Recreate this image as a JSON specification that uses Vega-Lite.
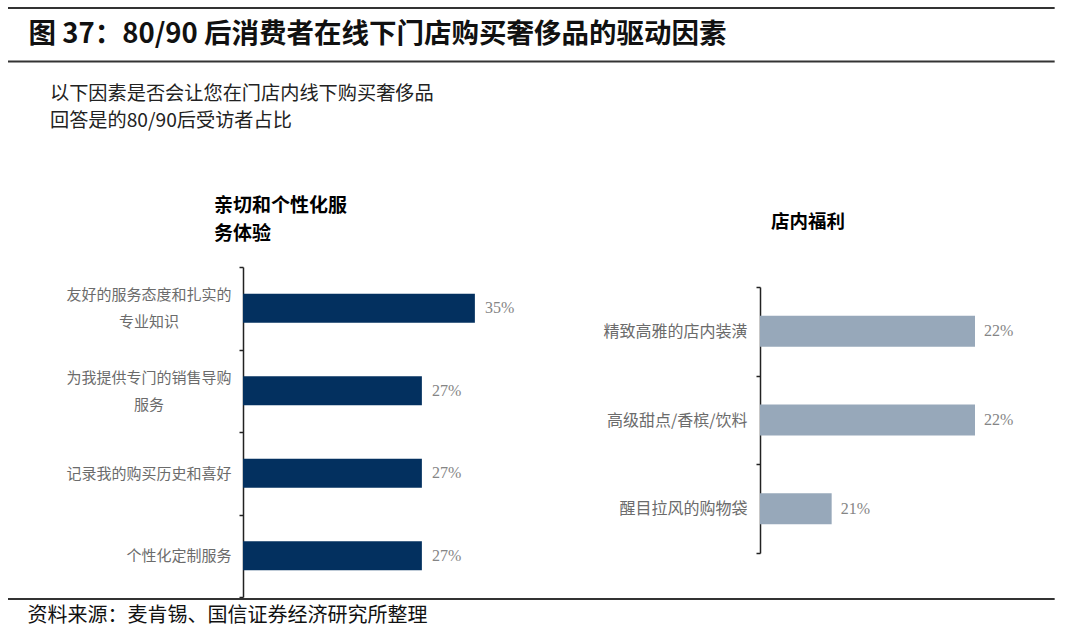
{
  "$schema": "https://vega.github.io/schema/vega-lite/v6.json",
  "background": "white",
  "padding": {"left": 7, "top": 7, "right": 0, "bottom": 0},
  "bounds": "flush",
  "spacing": 2,
  "config": {
    "view": {"stroke": null},
    "font": "Noto Sans CJK SC",
    "axis": {"labelFont": "Noto Sans CJK SC"}
  },
  "vconcat": [
    {
      "width": 1073,
      "height": 257,
      "layer": [
        {
          "data": {"values": [{"k": 1}]},
          "mark": {"type": "rule", "color": "#333333", "strokeWidth": 2},
          "encoding": {
            "x": {"datum": 0, "type": "quantitative", "scale": {"domain": [0, 1073]}, "axis": null},
            "x2": {"datum": 1073},
            "y": {"datum": 0, "type": "quantitative", "scale": {"domain": [257, 0]}, "axis": null}
          }
        },
        {
          "data": {"values": [{"k": 1}]},
          "mark": {"type": "rule", "color": "#333333", "strokeWidth": 2},
          "encoding": {
            "x": {"datum": 0, "type": "quantitative"},
            "x2": {"datum": 1073},
            "y": {"datum": 54, "type": "quantitative"}
          }
        },
        {
          "data": {"values": [{"text": "图 37：80/90 后消费者在线下门店购买奢侈品的驱动因素"}]},
          "mark": {"type": "text", "align": "left", "baseline": "middle", "fontSize": 27.5, "fontWeight": "bold", "color": "#111111", "font": "Noto Sans CJK SC"},
          "encoding": {
            "x": {"datum": 21, "type": "quantitative"},
            "y": {"datum": 27, "type": "quantitative"},
            "text": {"field": "text"}
          }
        },
        {
          "data": {"values": [{"text": "以下因素是否会让您在门店内线下购买奢侈品\n回答是的80/90后受访者占比"}]},
          "mark": {"type": "text", "align": "left", "baseline": "middle", "fontSize": 19.2, "lineBreak": "\n", "lineHeight": 27, "color": "#222222", "font": "Noto Sans CJK SC"},
          "encoding": {
            "x": {"datum": 43, "type": "quantitative"},
            "y": {"datum": 87.5, "type": "quantitative"},
            "text": {"field": "text"}
          }
        }
      ]
    },
    {
      "bounds": "flush",
      "spacing": 0,
      "hconcat": [
        {
          "width": 235,
          "height": 10,
          "data": {"values": []},
          "mark": "point"
        },
        {
          "width": 265,
          "height": 330,
          "title": {"text": ["亲切和个性化服", "务体验"], "anchor": "start", "frame": "group", "dx": -29, "offset": 16, "fontSize": 19, "fontWeight": "bold", "lineHeight": 28, "color": "#000000", "font": "Noto Sans CJK SC"},
          "data": {"values": [
            {"factor": "友好的服务态度和扎实的专业知识", "share": 0.35},
            {"factor": "为我提供专门的销售导购服务", "share": 0.27},
            {"factor": "记录我的购买历史和喜好", "share": 0.27},
            {"factor": "个性化定制服务", "share": 0.27}
          ]},
          "encoding": {
            "y": {
              "field": "factor", "type": "nominal", "sort": null,
              "scale": {"paddingInner": 0, "paddingOuter": 0},
              "axis": {
                "title": null, "labelFontSize": 15, "labelColor": "#6b6b6b",
                "labelLineHeight": 27, "labelLimit": 400,
                "tickSize": 4, "tickWidth": 1.5, "tickColor": "#222222", "tickBand": "extent",
                "domainColor": "#222222", "domainWidth": 1.5,
                "labelExpr": "datum.value == '友好的服务态度和扎实的专业知识' ? ['友好的服务态度和扎实的', '专业知识'] : datum.value == '为我提供专门的销售导购服务' ? ['为我提供专门的销售导购', '服务'] : datum.value",
                "labelAlign": {"condition": {"test": "datum.value == '友好的服务态度和扎实的专业知识' || datum.value == '为我提供专门的销售导购服务'", "value": "center"}, "value": "right"},
                "labelPadding": {"condition": {"test": "datum.value == '友好的服务态度和扎实的专业知识' || datum.value == '为我提供专门的销售导购服务'", "value": 90.5}, "value": 8},
                "labelOffset": {"condition": {"test": "datum.value == '友好的服务态度和扎实的专业知识' || datum.value == '为我提供专门的销售导购服务'", "value": -13.5}, "value": 0}
              }
            },
            "x": {"field": "share", "type": "quantitative", "scale": {"domain": [0, 0.4]}, "axis": null}
          },
          "layer": [
            {"mark": {"type": "bar", "color": "#03305f", "height": {"band": 0.352}}},
            {
              "mark": {"type": "text", "align": "left", "baseline": "middle", "dx": 10, "fontSize": 16, "color": "#858585", "font": "Liberation Sans Narrow, Liberation Serif"},
              "encoding": {"text": {"field": "share", "type": "quantitative", "format": ".0%"}}
            }
          ]
        },
        {
          "width": 252,
          "height": 10,
          "data": {"values": []},
          "mark": "point"
        },
        {
          "bounds": "flush",
          "spacing": 0,
          "vconcat": [
            {
              "width": 10,
              "height": 20,
              "data": {"values": []},
              "mark": "point"
            },
            {
              "width": 215,
              "height": 266,
              "title": {"text": "店内福利", "anchor": "start", "frame": "group", "dx": 11, "offset": 48, "fontSize": 18.5, "fontWeight": "bold", "color": "#000000", "font": "Noto Sans CJK SC"},
              "data": {"values": [
                {"factor": "精致高雅的店内装潢", "share": 0.22},
                {"factor": "高级甜点/香槟/饮料", "share": 0.22},
                {"factor": "醒目拉风的购物袋", "share": 0.21}
              ]},
              "encoding": {
                "y": {
                  "field": "factor", "type": "nominal", "sort": null,
                  "scale": {"paddingInner": 0, "paddingOuter": 0},
                  "axis": {
                    "title": null, "labelFontSize": 16, "labelColor": "#6b6b6b", "labelPadding": 9,
                    "labelLimit": 400,
                    "tickSize": 4, "tickWidth": 1.5, "tickColor": "#222222", "tickBand": "extent",
                    "domainColor": "#222222", "domainWidth": 1.5
                  }
                },
                "x": {"field": "share", "type": "quantitative", "scale": {"domain": [0.205, 0.22], "zero": false}, "axis": null}
              },
              "layer": [
                {
                  "mark": {"type": "bar", "color": "#97a8ba", "height": {"band": 0.35}},
                  "encoding": {"x2": {"datum": 0.205}}
                },
                {
                  "mark": {"type": "text", "align": "left", "baseline": "middle", "dx": 9, "fontSize": 16, "color": "#858585", "font": "Liberation Sans Narrow, Liberation Serif"},
                  "encoding": {"text": {"field": "share", "type": "quantitative", "format": ".0%"}}
                }
              ]
            }
          ]
        }
      ]
    },
    {
      "width": 10,
      "height": 328,
      "data": {"values": []},
      "mark": "point"
    },
    {
      "width": 1073,
      "height": 30,
      "layer": [
        {
          "data": {"values": [{"k": 1}]},
          "mark": {"type": "rule", "color": "#333333", "strokeWidth": 2},
          "encoding": {
            "x": {"datum": 0, "type": "quantitative", "scale": {"domain": [0, 1073]}, "axis": null},
            "x2": {"datum": 1073},
            "y": {"datum": 0, "type": "quantitative", "scale": {"domain": [30, 0]}, "axis": null}
          }
        },
        {
          "data": {"values": [{"text": "资料来源：麦肯锡、国信证券经济研究所整理"}]},
          "mark": {"type": "text", "align": "left", "baseline": "middle", "fontSize": 20, "color": "#111111", "font": "Noto Sans CJK SC"},
          "encoding": {
            "x": {"datum": 20, "type": "quantitative"},
            "y": {"datum": 17, "type": "quantitative"},
            "text": {"field": "text"}
          }
        }
      ]
    }
  ]
}
